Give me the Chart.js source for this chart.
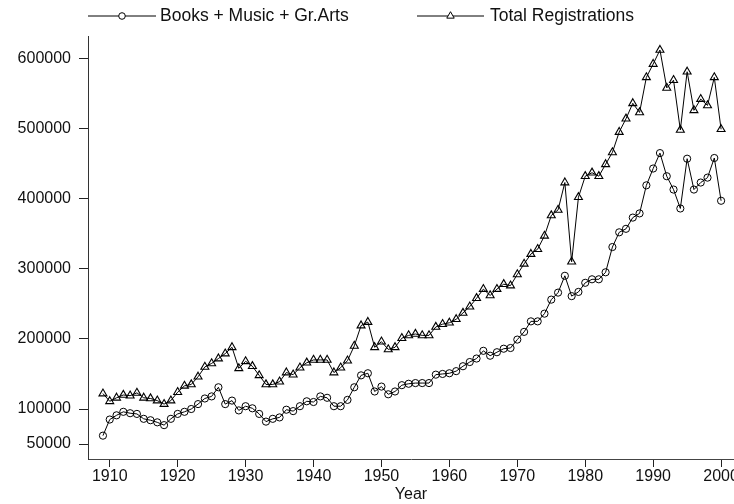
<!DOCTYPE html>
<html>
<head>
<meta charset="utf-8">
<script src="https://cdn.jsdelivr.net/npm/chart.js@4.4.0/dist/chart.umd.min.js"></script>
<style>
  html, body { margin: 0; padding: 0; background: #fff; }
  #chart { display: block; }
</style>
</head>
<body>
<canvas id="chart" width="734" height="504"></canvas>
<script>
// Years 1909 - 2000
const years = [];
for (let y = 1909; y <= 2000; y++) years.push(y);

// Books + Music + Gr.Arts
const booksMusicArts = [
    62000, 85000, 91000, 96000, 94000, 93000, 86000, 84000, 81000, 77000,
    86000, 93000, 96000, 100000, 107000, 115000, 118000, 131000, 107000, 112000,
    98000, 104000, 101000, 93000, 82000, 86000, 88000, 99000, 97000, 104000,
    111000, 110000, 118000, 116000, 104000, 104000, 113000, 131000, 148000, 151000,
    125000, 132000, 121000, 125000, 134000, 136000, 137000, 137000, 137000, 149000,
    150000, 151000, 154000, 161000, 167000, 172000, 183000, 176000, 181000, 186000,
    187000, 199000, 210000, 225000, 225000, 236000, 256000, 266000, 290000, 261000,
    267000, 280000, 285000, 285000, 295000, 331000, 352000, 357000, 373000, 379000,
    419000, 443000, 465000, 432000, 413000, 386000, 457000, 413000, 423000, 430000,
    458000, 397000
];

// Total Registrations
const totalRegistrations = [
    122000, 111000, 116000, 120000, 119000, 123000, 116000, 115000, 112000, 107000,
    112000, 124000, 133000, 135000, 146000, 160000, 165000, 172000, 179000, 188000,
    158000, 168000, 161000, 148000, 135000, 135000, 139000, 152000, 149000, 159000,
    166000, 170000, 170000, 170000, 152000, 159000, 169000, 190000, 219000, 224000,
    188000, 196000, 185000, 188000, 201000, 205000, 207000, 205000, 205000, 217000,
    221000, 223000, 228000, 237000, 246000, 258000, 271000, 262000, 271000, 278000,
    276000, 292000, 307000, 321000, 328000, 347000, 376000, 384000, 423000, 310000,
    402000, 432000, 437000, 432000, 449000, 466000, 495000, 514000, 536000, 523000,
    573000, 592000, 612000, 558000, 569000, 498000, 581000, 526000, 542000, 533000,
    573000, 499000
];

const xTicks = [1910, 1920, 1930, 1940, 1950, 1960, 1970, 1980, 1990, 2000];
const yTicks = [50000, 100000, 200000, 300000, 400000, 500000, 600000];

const FONT = { family: '"Liberation Sans", Arial, sans-serif', size: 16 };
const LEGEND_SIZE = 17.5;
const INK = '#111';

// line - marker - line legend like the original
const lineLegend = {
    id: 'lineLegend',
    afterDraw(chart) {
        const ctx = chart.ctx;
        const items = [
            { x1: 88, x2: 156, text: 160 },
            { x1: 417, x2: 484, text: 490 }
        ];
        const y = 16;
        ctx.save();
        chart.data.datasets.forEach((ds, i) => {
            const it = items[i];
            ctx.strokeStyle = ds.borderColor;
            ctx.lineWidth = 1;
            ctx.beginPath();
            ctx.moveTo(it.x1, y);
            ctx.lineTo(it.x2, y);
            ctx.stroke();
            ctx.fillStyle = '#fff';
            Chart.helpers.drawPoint(ctx, {
                pointStyle: ds.pointStyle,
                radius: ds.pointRadius - 0.3,
                borderWidth: 1
            }, (it.x1 + it.x2) / 2, y);
            ctx.fillStyle = INK;
            ctx.font = LEGEND_SIZE + 'px ' + FONT.family;
            ctx.textBaseline = 'middle';
            ctx.textAlign = 'left';
            ctx.fillText(ds.label, it.text, y);
        });
        ctx.restore();
    }
};

new Chart(document.getElementById('chart'), {
    type: 'line',
    data: {
        datasets: [{
            label: 'Books + Music + Gr.Arts',
            data: years.map((yr, i) => ({ x: yr, y: booksMusicArts[i] })),
            borderColor: '#000',
            borderWidth: 1,
            pointStyle: 'circle',
            pointRadius: 3.6,
            pointBorderColor: '#000',
            pointBackgroundColor: 'rgba(0,0,0,0)',
            pointBorderWidth: 1,
            tension: 0
        }, {
            label: 'Total Registrations',
            data: years.map((yr, i) => ({ x: yr, y: totalRegistrations[i] })),
            borderColor: '#000',
            borderWidth: 1,
            pointStyle: 'triangle',
            pointRadius: 4.6,
            pointBorderColor: '#000',
            pointBackgroundColor: 'rgba(0,0,0,0)',
            pointBorderWidth: 1.1,
            tension: 0
        }]
    },
    options: {
        responsive: false,
        animation: false,
        clip: false,
        layout: {
            autoPadding: false,
            padding: { top: 36, left: 0, right: 0, bottom: 0 }
        },
        scales: {
            x: {
                type: 'linear',
                min: 1906.8,
                max: 2001.9,
                afterBuildTicks: scale => { scale.ticks = xTicks.map(v => ({ value: v })); },
                afterFit: scale => {
                    scale.height = 45;
                    scale.paddingLeft = 0;
                    scale.paddingRight = 0;
                },
                grid: { drawOnChartArea: false, tickLength: 8, color: '#222' },
                border: { display: true, color: '#444', width: 1 },
                ticks: {
                    color: INK,
                    font: FONT,
                    padding: 0,
                    maxRotation: 0,
                    autoSkip: false,
                    callback: v => String(v)
                },
                title: {
                    display: true,
                    text: 'Year',
                    color: INK,
                    font: FONT,
                    padding: { top: 0, bottom: 0 }
                }
            },
            y: {
                min: 28700,
                max: 632000,
                afterBuildTicks: scale => { scale.ticks = yTicks.map(v => ({ value: v })); },
                afterFit: scale => {
                    scale.width = 88;
                    scale.paddingTop = 0;
                    scale.paddingBottom = 0;
                },
                grid: { drawOnChartArea: false, tickLength: 9, color: '#222' },
                border: { display: true, color: '#333', width: 1 },
                ticks: {
                    color: INK,
                    font: FONT,
                    padding: 8,
                    autoSkip: false,
                    callback: v => String(v)
                }
            }
        },
        plugins: {
            legend: { display: false },
            tooltip: { enabled: false }
        }
    },
    plugins: [lineLegend]
});
</script>
</body>
</html>
